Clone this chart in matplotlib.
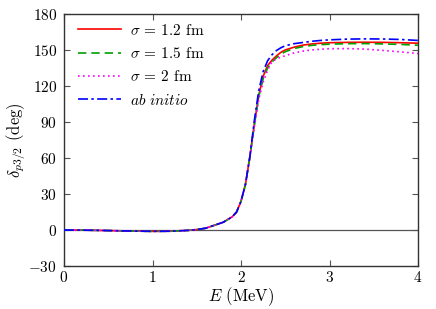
import matplotlib
matplotlib.use("Agg")
import matplotlib.pyplot as plt

plt.rcParams['font.family'] = 'serif'
plt.rcParams['font.serif'] = ['cmr10', 'DejaVu Serif']
plt.rcParams['mathtext.fontset'] = 'cm'
plt.rcParams['axes.formatter.use_mathtext'] = True
plt.rcParams['axes.unicode_minus'] = True

E = [0, 0.2, 0.4, 0.6, 0.8, 1.0, 1.2, 1.4, 1.5, 1.6, 1.7, 1.8, 1.9, 1.95, 2.0,
     2.05, 2.1, 2.15, 2.2, 2.25, 2.3, 2.35, 2.4, 2.45, 2.5, 2.6, 2.7, 2.8, 2.9,
     3.0, 3.2, 3.4, 3.6, 3.8, 4.0]

low = [0, -0.1, -0.3, -0.6, -0.9, -1.1, -1.0, -0.3, 0.4, 1.5, 4.0, 6.5, 11, 15, 24,
       38, 61]

sigma_12 = low + [88, 112, 128, 137, 141.5, 145, 148, 150, 152.3, 154, 155, 155.6,
                  156, 156.3, 156.4, 156.3, 156.0, 155.6]
sigma_15 = low + [87, 111, 126, 135, 140, 143.5, 146.5, 148.5, 151.2, 152.8, 153.8,
                  154.4, 154.8, 155.2, 155.3, 155.0, 154.6, 153.9]
sigma_2 = low + [86, 109, 123, 133, 140.3, 142.5, 144, 145.2, 147.5, 149, 150, 150.6,
                 151, 151.1, 150.7, 149.6, 148.4, 147.0]
ab_initio = low + [91, 116, 132, 141, 146, 149.5, 151.8, 153.5, 155.2, 156.2, 157.2,
                   157.9, 158.4, 159.0, 159.2, 159.1, 158.7, 157.9]

labels = [r'$\sigma$ = 1.2 fm', r'$\sigma$ = 1.5 fm', r'$\sigma$ = 2 fm',
          r'$ab\ initio$']

xticks = [0, 1, 2, 3, 4]
yticks = [-30, 0, 30, 60, 90, 120, 150, 180]

fig = plt.figure(figsize=(4.36, 3.09), dpi=100)
ax = fig.add_axes([0.1468, 0.139, 0.812, 0.816])

ax.axhline(0, color='#555555', lw=0.9, zorder=1)
ax.plot(E, sigma_12, color='#ff0000', lw=1.2, ls='-', label=labels[0], zorder=3)
ax.plot(E, sigma_15, color='#00a000', lw=1.2, ls=(0, (5, 3)), label=labels[1], zorder=3)
ax.plot(E, sigma_2, color='#ff00ff', lw=1.2, ls=(0, (1, 2)), label=labels[2], zorder=3)
ax.plot(E, ab_initio, color='#0000ff', lw=1.2, ls=(0, (6, 2, 1.5, 2)), label=labels[3], zorder=4)

ax.set_xlim(0, 4)
ax.set_ylim(-30, 180)
ax.set_xticks(xticks)
ax.set_yticks(yticks)
ax.set_xticklabels([f'${t}$' for t in xticks])
ax.set_yticklabels([f'${t}$' if t >= 0 else r'$-30$' for t in yticks])
ax.tick_params(direction='in', top=True, right=True, length=4, width=0.8,
               color='#555555', labelsize=11)
ax.tick_params(axis='x', pad=3)
ax.tick_params(axis='y', pad=5)
for s in ax.spines.values():
    s.set_color('#333333')
    s.set_linewidth(1.0)

ax.set_xlabel(r'$E$ (MeV)', fontsize=12, labelpad=0)
ax.set_ylabel(r'$\delta_{p3/2}$ (deg)', fontsize=12, labelpad=0)

ax.legend(loc='upper left', bbox_to_anchor=(0.023, 0.99), frameon=False,
          fontsize=11, handlelength=2.8, labelspacing=0.55, borderaxespad=0.0,
          handletextpad=0.6)

fig.savefig('out.png', dpi=100)
